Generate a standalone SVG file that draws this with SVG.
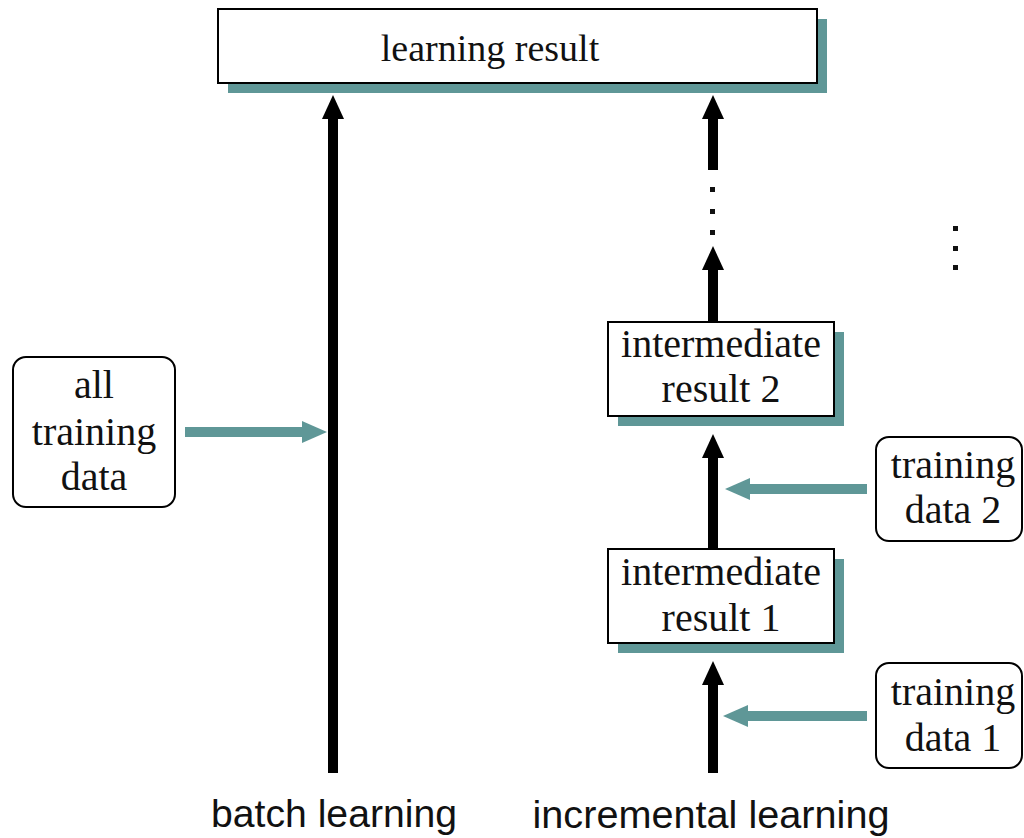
<svg xmlns="http://www.w3.org/2000/svg" width="1024" height="838" viewBox="0 0 1024 838">
  <style>
    .box { fill: #ffffff; stroke: #000000; stroke-width: 2; }
    .shadow { fill: #5f9797; }
    .serif { font-family: "Liberation Serif", "Times New Roman", serif; font-size: 40px; fill: #111111; text-anchor: middle; }
    .title { font-size: 38px; }
    .sans { font-family: "Liberation Sans", Arial, sans-serif; font-size: 38px; fill: #111111; text-anchor: middle; }
    .flow { stroke: #000000; stroke-width: 10; fill: none; marker-end: url(#headBlack); }
    .feed { stroke: #5f9797; stroke-width: 10; fill: none; marker-end: url(#headTeal); }
    .dot { fill: #111111; }
  </style>
  <defs>
    <marker id="headBlack" markerUnits="userSpaceOnUse" markerWidth="26" markerHeight="24" viewBox="0 -12 26 24" refX="0" refY="0" orient="auto">
      <path d="M0,-11 L24,0 L0,11 Z" fill="#000000"/>
    </marker>
    <marker id="headTeal" markerUnits="userSpaceOnUse" markerWidth="27" markerHeight="24" viewBox="0 -12 27 24" refX="0" refY="0" orient="auto">
      <path d="M0,-11 L25,0 L0,11 Z" fill="#5f9797"/>
    </marker>
  </defs>

  <rect width="1024" height="838" fill="#ffffff"/>

  <!-- connectors -->
  <g id="connectors">
    <!-- batch learning -->
    <line class="flow" x1="333" y1="773" x2="333" y2="119"/>
    <line class="feed" x1="185" y1="432" x2="302" y2="432"/>
    <!-- incremental learning -->
    <line class="flow" x1="713" y1="773" x2="713" y2="685"/>
    <line class="flow" x1="713" y1="550" x2="713" y2="458"/>
    <line class="flow" x1="713" y1="322" x2="713" y2="270"/>
    <line class="flow" x1="713" y1="170" x2="713" y2="119"/>
    <line class="feed" x1="867" y1="489" x2="750" y2="489"/>
    <line class="feed" x1="867" y1="716" x2="748" y2="716"/>
    <!-- ellipsis between intermediate steps -->
    <rect class="dot" x="710" y="187" width="5" height="5"/>
    <rect class="dot" x="710" y="209" width="5" height="5"/>
    <rect class="dot" x="710" y="230" width="5" height="5"/>
  </g>

  <!-- nodes -->
  <g id="learning-result">
    <rect class="shadow" x="228" y="19" width="599" height="74"/>
    <rect class="box" x="218" y="9" width="599" height="74"/>
    <text class="serif title" x="490" y="61">learning result</text>
  </g>

  <g id="all-training-data">
    <rect class="box" x="13" y="357" width="162" height="150" rx="13" ry="13"/>
    <text class="serif" x="94" y="398">all</text>
    <text class="serif" x="94" y="445">training</text>
    <text class="serif" x="94" y="490">data</text>
  </g>

  <g id="intermediate-result-2">
    <rect class="shadow" x="618" y="332" width="226" height="94"/>
    <rect class="box" x="608" y="322" width="226" height="94"/>
    <text class="serif" x="721" y="357">intermediate</text>
    <text class="serif" x="721" y="402">result 2</text>
  </g>

  <g id="intermediate-result-1">
    <rect class="shadow" x="618" y="559" width="226" height="94"/>
    <rect class="box" x="608" y="549" width="226" height="94"/>
    <text class="serif" x="721" y="585">intermediate</text>
    <text class="serif" x="721" y="631">result 1</text>
  </g>

  <g id="training-data-2">
    <rect class="box" x="876" y="437" width="146" height="104" rx="13" ry="13"/>
    <text class="serif" x="953" y="478">training</text>
    <text class="serif" x="953" y="523">data 2</text>
  </g>

  <g id="training-data-1">
    <rect class="box" x="876" y="663" width="146" height="105" rx="13" ry="13"/>
    <text class="serif" x="953" y="705">training</text>
    <text class="serif" x="953" y="751">data 1</text>
  </g>

  <!-- further steps continue -->
  <g id="more-steps">
    <rect class="dot" x="953" y="226" width="5" height="5"/>
    <rect class="dot" x="953" y="246" width="5" height="5"/>
    <rect class="dot" x="953" y="265" width="5" height="5"/>
  </g>

  <g id="labels">
    <text class="sans" x="334" y="827" textLength="246" lengthAdjust="spacingAndGlyphs">batch learning</text>
    <text class="sans" x="711" y="828" textLength="357" lengthAdjust="spacingAndGlyphs">incremental learning</text>
  </g>
</svg>
